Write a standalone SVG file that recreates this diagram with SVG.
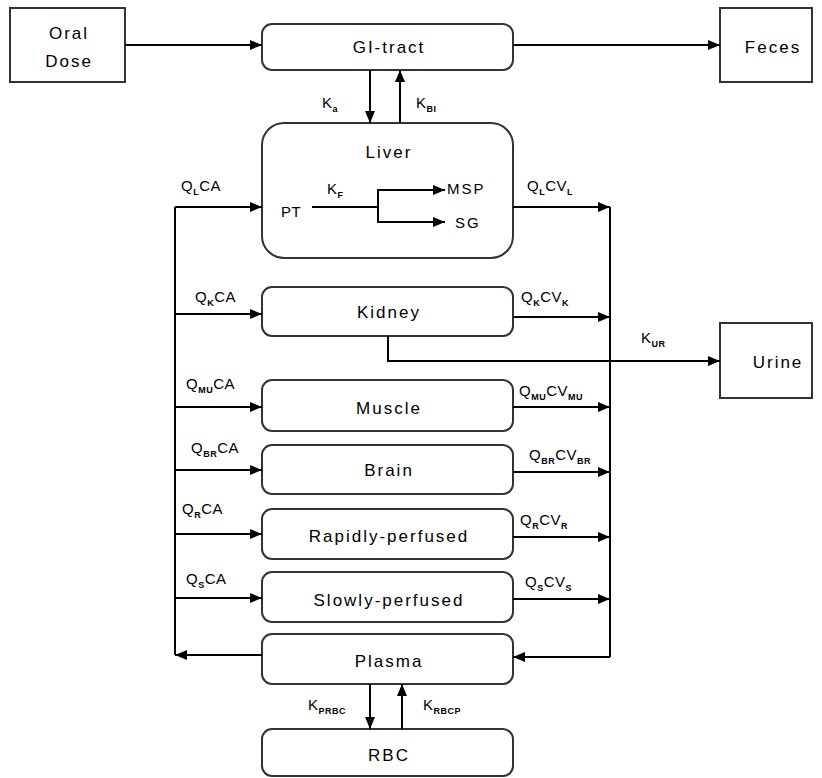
<svg xmlns="http://www.w3.org/2000/svg" width="822" height="778" viewBox="0 0 822 778">
<defs>
<marker id="ah" viewBox="0 0 12 10" refX="12" refY="5" markerWidth="12" markerHeight="10" markerUnits="userSpaceOnUse" orient="auto">
<path d="M0,0 L12,5 L0,10 Z" fill="#000"/>
</marker>
</defs>
<style>
.box{fill:#fff;stroke:#333;stroke-width:2}
.t{font-family:"Liberation Sans",Arial,sans-serif;font-size:17px;letter-spacing:2px;fill:#000;text-anchor:middle}
.l{font-family:"Liberation Sans",Arial,sans-serif;font-size:15px;letter-spacing:0.5px;fill:#000}
.s{font-size:9px;font-weight:bold}
.c{fill:none;stroke:#000;stroke-width:2}
.a{fill:none;stroke:#000;stroke-width:2;marker-end:url(#ah)}
</style>
<rect width="822" height="778" fill="#fff"/>
<g id="oral-dose"><rect class="box" x="10" y="8" width="115" height="74"/><text class="t" x="69" y="39">Oral</text><text class="t" x="69" y="67">Dose</text></g>
<g id="gi-tract"><rect class="box" x="262" y="24" width="251" height="46" rx="10"/><text class="t" x="389" y="53">GI-tract</text></g>
<g id="feces"><rect class="box" x="720" y="8" width="92" height="74"/><text class="t" x="773" y="53">Feces</text></g>
<g id="liver"><rect class="box" x="262" y="123" width="251" height="135" rx="22"/><text class="t" x="389" y="158">Liver</text>
<text class="l" x="281" y="217">PT</text><text class="l" x="447" y="194" style="letter-spacing:2px">MSP</text><text class="l" x="455" y="228" style="letter-spacing:2px">SG</text></g>
<g id="kidney"><rect class="box" x="262" y="287" width="251" height="49" rx="10"/><text class="t" x="389" y="318">Kidney</text></g>
<g id="urine"><rect class="box" x="720" y="323" width="92" height="75"/><text class="t" x="778" y="368">Urine</text></g>
<g id="muscle"><rect class="box" x="262" y="380" width="251" height="51" rx="10"/><text class="t" x="389" y="414">Muscle</text></g>
<g id="brain"><rect class="box" x="262" y="445" width="251" height="49" rx="10"/><text class="t" x="389" y="476">Brain</text></g>
<g id="rapidly"><rect class="box" x="262" y="509" width="251" height="50" rx="10"/><text class="t" x="389" y="542">Rapidly-perfused</text></g>
<g id="slowly"><rect class="box" x="262" y="572" width="251" height="50" rx="10"/><text class="t" x="389" y="606">Slowly-perfused</text></g>
<g id="plasma"><rect class="box" x="262" y="634" width="251" height="50" rx="10"/><text class="t" x="389" y="667">Plasma</text></g>
<g id="rbc"><rect class="box" x="262" y="729" width="251" height="47" rx="10"/><text class="t" x="389" y="761">RBC</text></g>
<g id="connectors">
<path class="a" d="M125,45 H262"/>
<path class="a" d="M513,45 H720"/>
<path class="a" d="M370,70 V123"/>
<path class="a" d="M400,123 V70"/>
<path class="c" d="M312,207 H378"/>
<path class="a" d="M378,207 V190 H445"/>
<path class="a" d="M378,207 V222 H445"/>
<path class="c" d="M175,207 V655"/>
<path class="c" d="M610,207 V657"/>
<path class="a" d="M175,207 H262"/>
<path class="a" d="M513,207 H610"/>
<path class="a" d="M175,314 H262"/>
<path class="a" d="M513,317 H610"/>
<path class="a" d="M388,336 V361 H720"/>
<path class="a" d="M175,407 H262"/>
<path class="a" d="M513,407 H610"/>
<path class="a" d="M175,470 H262"/>
<path class="a" d="M513,472 H610"/>
<path class="a" d="M175,534 H262"/>
<path class="a" d="M513,537 H610"/>
<path class="a" d="M175,598 H262"/>
<path class="a" d="M513,599 H610"/>
<path class="a" d="M262,655 H175"/>
<path class="a" d="M610,657 H513"/>
<path class="a" d="M370,684 V729"/>
<path class="a" d="M402,729 V684"/>
</g>
<g id="labels">
<text class="l" x="322" y="108">K<tspan class="s" dy="4">a</tspan></text>
<text class="l" x="416" y="108">K<tspan class="s" dy="4">BI</tspan></text>
<text class="l" x="327" y="194">K<tspan class="s" dy="4">F</tspan></text>
<text class="l" x="181" y="191">Q<tspan class="s" dy="4">L</tspan><tspan dy="-4">CA</tspan></text>
<text class="l" x="527" y="191">Q<tspan class="s" dy="4">L</tspan><tspan dy="-4">CV</tspan><tspan class="s" dy="4">L</tspan></text>
<text class="l" x="195" y="302">Q<tspan class="s" dy="4">K</tspan><tspan dy="-4">CA</tspan></text>
<text class="l" x="521" y="302">Q<tspan class="s" dy="4">K</tspan><tspan dy="-4">CV</tspan><tspan class="s" dy="4">K</tspan></text>
<text class="l" x="641" y="343">K<tspan class="s" dy="4">UR</tspan></text>
<text class="l" x="186" y="389">Q<tspan class="s" dy="4">MU</tspan><tspan dy="-4">CA</tspan></text>
<text class="l" x="519" y="396">Q<tspan class="s" dy="4">MU</tspan><tspan dy="-4">CV</tspan><tspan class="s" dy="4">MU</tspan></text>
<text class="l" x="191" y="453">Q<tspan class="s" dy="4">BR</tspan><tspan dy="-4">CA</tspan></text>
<text class="l" x="529" y="460">Q<tspan class="s" dy="4">BR</tspan><tspan dy="-4">CV</tspan><tspan class="s" dy="4">BR</tspan></text>
<text class="l" x="182" y="514">Q<tspan class="s" dy="4">R</tspan><tspan dy="-4">CA</tspan></text>
<text class="l" x="520" y="525">Q<tspan class="s" dy="4">R</tspan><tspan dy="-4">CV</tspan><tspan class="s" dy="4">R</tspan></text>
<text class="l" x="186" y="584">Q<tspan class="s" dy="4">S</tspan><tspan dy="-4">CA</tspan></text>
<text class="l" x="525" y="587">Q<tspan class="s" dy="4">S</tspan><tspan dy="-4">CV</tspan><tspan class="s" dy="4">S</tspan></text>
<text class="l" x="308" y="710">K<tspan class="s" dy="4">PRBC</tspan></text>
<text class="l" x="423" y="710">K<tspan class="s" dy="4">RBCP</tspan></text>
</g>
</svg>
